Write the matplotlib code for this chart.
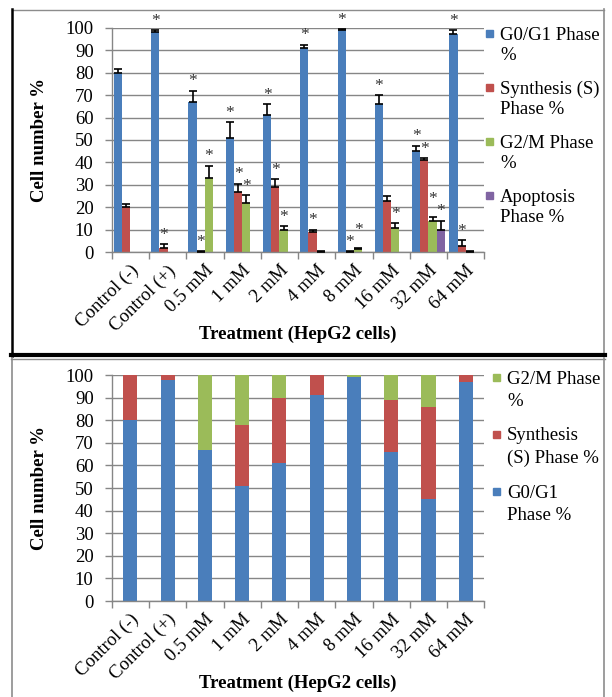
import matplotlib
matplotlib.use("Agg")
import matplotlib.pyplot as plt
from matplotlib.lines import Line2D
from matplotlib.patches import Rectangle
import numpy as np

plt.rcParams['font.family'] = ['Liberation Serif', 'DejaVu Serif']

treatments = ['Control (-)', 'Control (+)', '0.5 mM', '1 mM', '2 mM',
              '4 mM', '8 mM', '16 mM', '32 mM', '64 mM']

# top panel: mean % with (upper) error
g0 = [80, 98, 67, 51, 61, 91, 99, 66, 45, 97]
g0_err = [1.5, 1, 5, 7, 5, 1.5, 0.3, 4, 2.5, 2]
s_phase = [20, 2, 0.3, 27, 29, 9, 0.3, 23, 41, 3]
s_err = [1.5, 1.5, 0.2, 3.5, 3.5, 1, 0.2, 2, 1, 2.5]
g2m = [0, 0, 33, 22, 10, 0.3, 1.5, 11, 14, 0.3]
g2m_err = [0, 0, 5.5, 3.5, 1.5, 0.2, 0.3, 2, 1.5, 0.2]
apop = [0, 0, 0, 0, 0, 0, 0, 0, 10, 0]
apop_err = [0, 0, 0, 0, 0, 0, 0, 0, 4, 0]

# significance (*) per series
g0_sig = [0, 1, 1, 1, 1, 1, 1, 1, 1, 1]
s_sig = [0, 1, 1, 1, 1, 1, 1, 0, 1, 1]
g2m_sig = [0, 0, 1, 1, 1, 0, 1, 1, 1, 0]
apop_sig = [0, 0, 0, 0, 0, 0, 0, 0, 1, 0]

# bottom panel: stacked %
st_g0 = [80, 98, 67, 51, 61, 91, 99, 66, 45, 97]
st_s = [20, 2, 0, 27, 29, 9, 0, 23, 41, 3]
st_g2m = [0, 0, 33, 22, 10, 0, 1, 11, 14, 0]

BLUE = '#4a7ebb'
RED = '#c0504d'
GREEN = '#9bbb59'
PURPLE = '#8064a2'
GRID = '#868686'

W, H = 612, 697
fig = plt.figure(figsize=(W / 100, H / 100), dpi=100)


def fx(px):
    return px / W


def fy(py):
    return 1 - py / H


def style_axes(ax):
    ax.set_xlim(-0.5, len(treatments) - 0.5)
    ax.set_ylim(0, 100)
    ax.set_yticks(range(0, 101, 10))
    ax.yaxis.grid(True, color=GRID, lw=1)
    ax.set_axisbelow(True)
    for sp in ['top', 'right']:
        ax.spines[sp].set_visible(False)
    for sp in ['left', 'bottom']:
        ax.spines[sp].set_color(GRID)
        ax.spines[sp].set_linewidth(1)
    ax.set_xticks(np.arange(len(treatments)))
    ax.set_xticklabels(treatments, rotation=45, ha='right',
                       rotation_mode='anchor', fontsize=13.5)
    ax.set_xticks(np.arange(-0.5, len(treatments)), minor=True)
    ax.tick_params(axis='x', which='major', length=0, pad=7)
    ax.tick_params(axis='x', which='minor', length=5, color=GRID, width=1)
    ax.tick_params(axis='y', length=5, color=GRID, width=1, pad=8,
                   labelsize=13.5)
    ax.set_ylabel('Cell number %', fontsize=13.5, fontweight='bold')
    ax.yaxis.set_label_coords(-0.17, 0.5)
    ax.set_xlabel('Treatment (HepG2 cells)', fontsize=13.5,
                  fontweight='bold')
    ax.xaxis.set_label_coords(0.5, -0.365)
    ax.xaxis.label.set_va('center')


def manual_legend(entries, x_sq, x_txt, y0, step, pitch):
    for i, (label, color) in enumerate(entries):
        yc = y0 + i * step
        fig.add_artist(Rectangle((fx(x_sq), fy(yc + 3.5)), fx(7), 7 / H,
                                 transform=fig.transFigure, color=color))
        for j, line in enumerate(label.split('\n')):
            fig.text(fx(x_txt), fy(yc + j * pitch), line, fontsize=13.5,
                     va='center_baseline', ha='left')


# ---------------- top panel ----------------
ax1 = fig.add_axes([fx(111.7), fy(252.3), fx(484.4 - 111.7),
                    (252.3 - 27.7) / H])
x = np.arange(len(treatments))
bw = 0.22
series = [(g0, g0_err, g0_sig, BLUE), (s_phase, s_err, s_sig, RED),
          (g2m, g2m_err, g2m_sig, GREEN), (apop, apop_err, apop_sig, PURPLE)]
stars = []  # (category, slot, top) for significance marks
for k, (vals, errs, sig, col) in enumerate(series):
    xs = x + (k - 1.5) * bw
    vals = np.array(vals, float)
    errs = np.array(errs, float)
    ax1.bar(xs, vals, bw, color=col, zorder=2)
    m = errs > 0
    ax1.errorbar(xs[m], vals[m], yerr=[np.zeros(m.sum()), errs[m]],
                 fmt='none', ecolor='black', elinewidth=1.2, capsize=3,
                 capthick=1.2, zorder=3)
    for i in range(len(x)):
        if sig[i]:
            stars.append([i, k, vals[i] + errs[i]])

# stagger neighbouring asterisks of similar height (raise the taller bar's)
stars.sort()
lift = {}
for a, b in zip(stars, stars[1:]):
    if a[0] == b[0] and b[1] == a[1] + 1 and abs(a[2] - b[2]) < 4:
        hi = a if a[2] >= b[2] else b
        lift[(hi[0], hi[1])] = 4
for i, k, top in stars:
    ax1.annotate('*', (x[i] + (k - 1.5) * bw, top + lift.get((i, k), 0)),
                 xytext=(0, 1), textcoords='offset points', ha='center',
                 va='bottom', fontsize=12.5, color='#333333')
style_axes(ax1)

manual_legend([('G0/G1 Phase\n%', BLUE), ('Synthesis (S)\nPhase %', RED),
               ('G2/M Phase\n%', GREEN), ('Apoptosis\nPhase %', PURPLE)],
              486, 500, 33, 54, 20.5)

# ---------------- bottom panel ----------------
ax2 = fig.add_axes([fx(111.7), fy(601), fx(484.4 - 111.7), (601 - 375) / H])
bw2 = 0.38
ax2.bar(x, st_g0, bw2, color=BLUE, zorder=2)
ax2.bar(x, st_s, bw2, bottom=st_g0, color=RED, zorder=2)
ax2.bar(x, st_g2m, bw2, bottom=np.add(st_g0, st_s), color=GREEN, zorder=2)
style_axes(ax2)

manual_legend([('G2/M Phase\n%', GREEN), ('Synthesis\n(S) Phase %', RED),
               ('G0/G1\nPhase %', BLUE)],
              493, 507, 377, 57, 22.5)

# ---------------- panel frames ----------------
def hline(y, x0, x1, color, lw):
    fig.add_artist(Line2D([fx(x0), fx(x1)], [fy(y), fy(y)],
                          transform=fig.transFigure, color=color, lw=lw))


def vline(xp, y0, y1, color, lw):
    fig.add_artist(Line2D([fx(xp), fx(xp)], [fy(y0), fy(y1)],
                          transform=fig.transFigure, color=color, lw=lw))


hline(9.5, 12, 604, '#8c8c8c', 1.0)
vline(12, 9, 356, 'black', 1.8)
vline(603.5, 9, 356, '#8c8c8c', 1.2)
hline(354.5, 11, 605, 'black', 3.0)
hline(358.5, 11, 605, '#8c8c8c', 1.0)
vline(12, 358, 697, '#8c8c8c', 1.2)
vline(603.5, 358, 697, '#8c8c8c', 1.2)

fig.savefig('out.png', dpi=100)
